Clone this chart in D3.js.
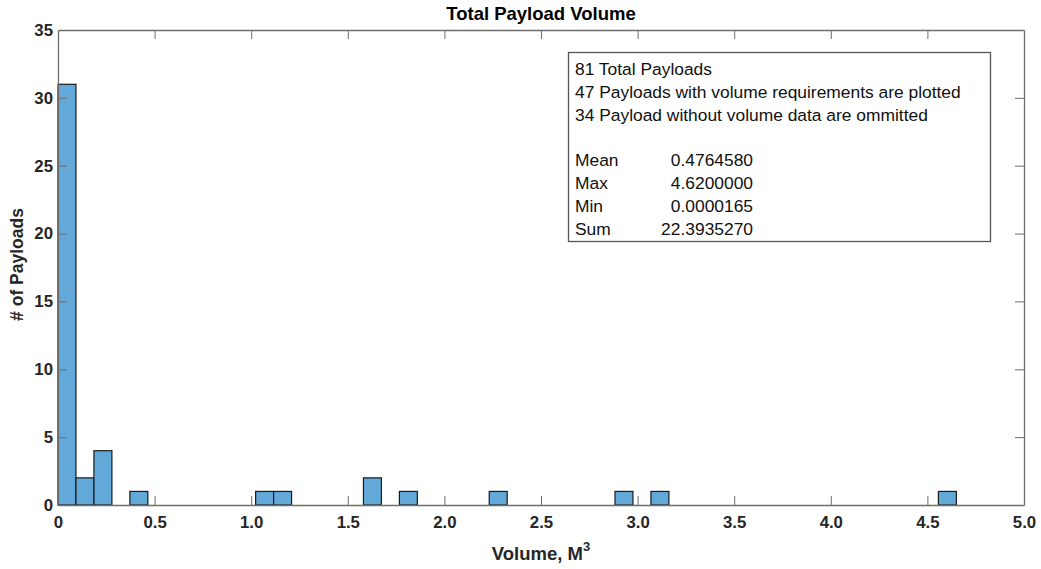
<!DOCTYPE html>
<html>
<head>
<meta charset="utf-8">
<script src="https://cdn.jsdelivr.net/npm/d3@7"></script>
<style>
  html, body { margin: 0; padding: 0; background: #fff; }
  svg { display: block; font-family: "Liberation Sans", Arial, Helvetica, sans-serif; }
</style>
</head>
<body>
<svg id="chart" width="1041" height="569"></svg>
<script>
// Histogram bins: lower edge index and count (bin width in M^3)
const binWidth = 0.093;
const binIndex = [0, 1, 2, 4, 11, 12, 17, 19, 24, 31, 33, 49];
const binCount = [31, 2, 4, 1, 1, 1, 2, 1, 1, 1, 1, 1];

const xTicks = [0, 0.5, 1.0, 1.5, 2.0, 2.5, 3.0, 3.5, 4.0, 4.5, 5.0];
const xTickLabels = ["0", "0.5", "1.0", "1.5", "2.0", "2.5", "3.0", "3.5", "4.0", "4.5", "5.0"];
const yTicks = [0, 5, 10, 15, 20, 25, 30, 35];

const titleText = "Total Payload Volume";
const xLabelText = "Volume, M";
const yLabelText = "# of Payloads";

const noteLines = [
  "81 Total Payloads",
  "47 Payloads with volume requirements are plotted",
  "34 Payload without volume data are ommitted"
];
const statNames = ["Mean", "Max", "Min", "Sum"];
const statValues = ["0.4764580", "4.6200000", "0.0000165", "22.3935270"];

const svg = d3.select("#chart");
const plot = { left: 58, right: 1024, top: 30, bottom: 505 };

const x = d3.scaleLinear().domain([0, 5]).range([plot.left, plot.right]);
const y = d3.scaleLinear().domain([0, 35]).range([plot.bottom, plot.top]);

const axisColor = "#6e6e6e";
const textColor = "#262626";

// bars
const bins = binIndex.map((b, i) => ({ x0: b * binWidth, x1: (b + 1) * binWidth, n: binCount[i] }));
svg.append("g").selectAll("rect").data(bins).join("rect")
  .attr("x", d => x(d.x0))
  .attr("width", d => x(d.x1) - x(d.x0))
  .attr("y", d => y(d.n))
  .attr("height", d => y(0) - y(d.n))
  .attr("fill", "#62a8d9")
  .attr("stroke", "#1a1a1a")
  .attr("stroke-width", 1.2);

// axes with inward ticks, box on all sides
const tickLen = 9;
const xAxis = d3.axisBottom(x).tickValues(xTicks).tickFormat((d, i) => xTickLabels[i])
  .tickSizeInner(-tickLen).tickSizeOuter(0).tickPadding(11);
const gx = svg.append("g").attr("transform", `translate(0,${plot.bottom})`).call(xAxis);

const yAxis = d3.axisLeft(y).tickValues(yTicks)
  .tickSizeInner(-tickLen).tickSizeOuter(0).tickPadding(5);
const gy = svg.append("g").attr("transform", `translate(${plot.left},0)`).call(yAxis);

const gxTop = svg.append("g").attr("transform", `translate(0,${plot.top})`)
  .call(d3.axisTop(x).tickValues(xTicks).tickFormat("").tickSizeInner(-tickLen).tickSizeOuter(0));
const gyRight = svg.append("g").attr("transform", `translate(${plot.right},0)`)
  .call(d3.axisRight(y).tickValues(yTicks).tickFormat("").tickSizeInner(-tickLen).tickSizeOuter(0));

[gx, gy, gxTop, gyRight].forEach(g => {
  g.select(".domain").attr("stroke", axisColor).attr("stroke-width", 1.3);
  g.selectAll(".tick line").attr("stroke", axisColor).attr("stroke-width", 1);
  g.selectAll(".tick text").attr("fill", textColor)
    .style("font-size", "16.8px").style("font-weight", "bold")
    .style("font-family", "'Liberation Sans', Arial, sans-serif");
});
// end ticks sit on the frame
gx.selectAll(".tick").filter(d => d === 0 || d === 5).select("line").remove();
gxTop.selectAll(".tick").filter(d => d === 0 || d === 5).select("line").remove();
gy.selectAll(".tick").filter(d => d === 0 || d === 35).select("line").remove();
gyRight.selectAll(".tick").filter(d => d === 0 || d === 35).select("line").remove();

// title
svg.append("text")
  .attr("x", (plot.left + plot.right) / 2).attr("y", 20)
  .attr("text-anchor", "middle").attr("fill", "#000")
  .style("font-size", "18.5px").style("font-weight", "bold")
  .text(titleText);

// x label with superscript
const xl = svg.append("text")
  .attr("x", (plot.left + plot.right) / 2).attr("y", 560)
  .attr("text-anchor", "middle").attr("fill", textColor)
  .style("font-size", "18.5px").style("font-weight", "bold");
xl.append("tspan").text(xLabelText);
xl.append("tspan").attr("dy", -9).style("font-size", "13px").text("3");

// y label
svg.append("text")
  .attr("transform", `translate(23,${(plot.top + plot.bottom) / 2 - 3}) rotate(-90)`)
  .attr("text-anchor", "middle").attr("fill", textColor)
  .style("font-size", "17.5px").style("font-weight", "bold")
  .text(yLabelText);

// annotation box
const box = { x: 568.5, y: 52.5, w: 422, h: 189 };
svg.append("rect")
  .attr("x", box.x).attr("y", box.y).attr("width", box.w).attr("height", box.h)
  .attr("fill", "#fff").attr("stroke", "#555").attr("stroke-width", 1.3);

const lineH = 22.8;
const firstBase = 75;
const noteG = svg.append("g").attr("fill", "#111").style("font-size", "17.4px");
noteLines.forEach((t, i) => {
  noteG.append("text").attr("x", 575).attr("y", firstBase + i * lineH).text(t);
});
statNames.forEach((t, i) => {
  const yy = firstBase + (i + 4) * lineH;
  noteG.append("text").attr("x", 575).attr("y", yy).text(t);
  noteG.append("text").attr("x", 753).attr("y", yy).attr("text-anchor", "end").text(statValues[i]);
});
</script>
</body>
</html>
